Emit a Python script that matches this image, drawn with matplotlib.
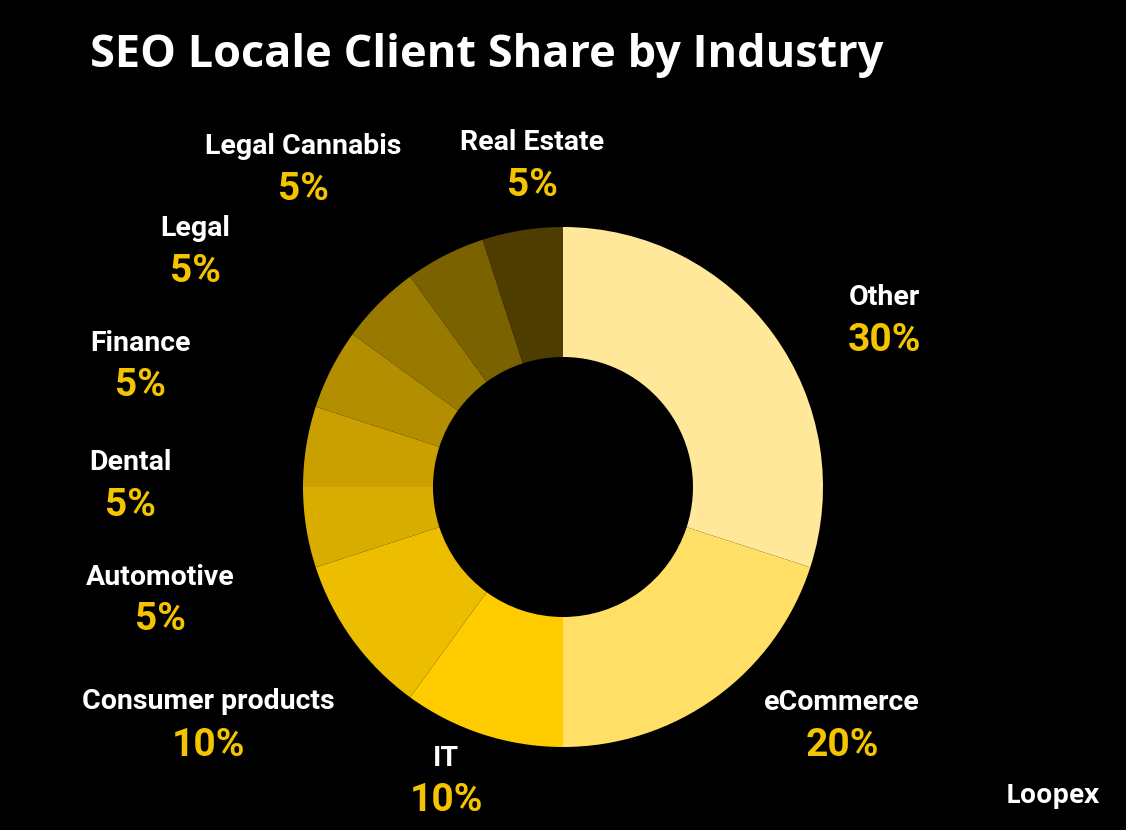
import matplotlib
matplotlib.use("Agg")
import matplotlib.pyplot as plt

categories = ["Other", "eCommerce", "IT", "Consumer products", "Automotive",
              "Dental", "Finance", "Legal", "Legal Cannabis", "Real Estate"]
shares = [30, 20, 10, 10, 5, 5, 5, 5, 5, 5]
colors = ["#FFE899", "#FFDF66", "#FFCC00", "#EDBE00", "#D9AD00",
          "#C9A000", "#B38E00", "#997A00", "#7A6200", "#4D3D00"]
# label positions in figure pixels (x center, name y, pct y) from top
label_pos = [(884, 297, 340), (842, 702, 745), (446, 758, 800), (208, 701, 745),
             (160, 577, 619), (130, 462, 505), (140, 343, 386), (195, 229, 272),
             (303, 146, 189), (532, 142, 186)]

W, H = 1126, 830
fig = plt.figure(figsize=(W/100, H/100), dpi=100, facecolor="black")
cx, cy, r = 563, 487, 260
ax = fig.add_axes([(cx-r)/W, (H-cy-r)/H, 2*r/W, 2*r/H])
ax.set_facecolor("black")
ax.pie(shares, colors=colors, startangle=90, counterclock=False,
       wedgeprops=dict(width=0.5, edgecolor="none"), radius=1)
ax.set_xlim(-1, 1); ax.set_ylim(-1, 1); ax.set_aspect("equal"); ax.axis("off")

for cat, s, (x, yn, yp) in zip(categories, shares, label_pos):
    fig.text(x/W, 1-yn/H, cat, color="white", fontsize=20.5, fontweight="bold",
             family="Roboto", ha="center", va="center")
    fig.text(x/W, 1-yp/H, f"{s}%", color="#F5C400", fontsize=28, fontweight="bold",
             family="Roboto", ha="center", va="center")

fig.text(90/W, 1-55/H, "SEO Locale Client Share by Industry", color="white",
         fontsize=32.5, fontweight="bold", family="Open Sans", ha="left", va="center")
fig.text(1053/W, 1-795/H, "Loopex", color="white", fontsize=19, fontweight="bold",
         family="Open Sans", ha="center", va="center")
fig.savefig("out.png", dpi=100, facecolor="black")
